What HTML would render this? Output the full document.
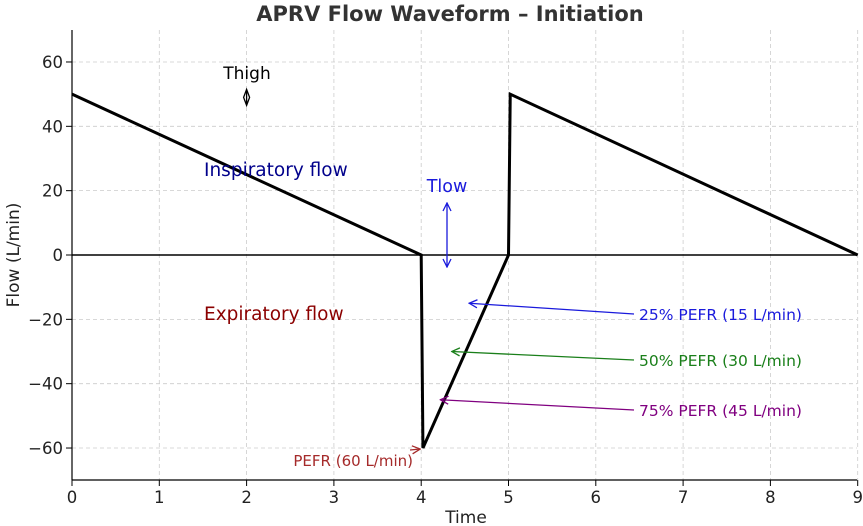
<!DOCTYPE html>
<html><head><meta charset="utf-8"><style>
body{margin:0;background:#fff;}
svg{display:block;font-family:"DejaVu Sans","Liberation Sans",sans-serif;}
</style></head><body>
<svg id="chart" width="863" height="526" viewBox="0 0 863 526">
<defs>
<marker id="ah" markerWidth="10" markerHeight="10" refX="9" refY="5" orient="auto-start-reverse" markerUnits="userSpaceOnUse"><path d="M1,1 L9,5 L1,9" fill="none" stroke="context-stroke" stroke-width="1.3"/></marker>
</defs>
<text x="450" y="21" text-anchor="middle" font-size="21" font-weight="bold" fill="#333">APRV Flow Waveform – Initiation</text>
<g id="grid"></g>
<g id="axes"></g>
<g id="series"></g>
<g id="annot"></g>
<text x="466" y="523" text-anchor="middle" font-size="17" fill="#222">Time</text>
<text transform="translate(19,255) rotate(-90)" text-anchor="middle" font-size="17" fill="#222">Flow (L/min)</text>
</svg>
<script>
const xTicks=[0,1,2,3,4,5,6,7,8,9];
const yTicks=[60,40,20,0,-20,-40,-60];
const yTickLabels=["60","40","20","0","−20","−40","−60"];
const waveT=[0,4,4.02,5,5.02,9];
const waveFlow=[50,0,-60,0,50,0];
const arrowLabels=["25% PEFR (15 L/min)","50% PEFR (30 L/min)","75% PEFR (45 L/min)"];
const arrowTargets=[[4.55,-15],[4.35,-30],[4.22,-45]];
const arrowColors=["#1a1adc","#1a7f1a","#800080"];
const NS="http://www.w3.org/2000/svg";
const X=t=>72+t*87.3;
const Y=v=>255-v*3.217;
function mk(tag,attrs,parent,text){const e=document.createElementNS(NS,tag);for(const k in attrs)e.setAttribute(k,attrs[k]);if(text!==undefined)e.textContent=text;parent.appendChild(e);return e;}
const grid=document.getElementById('grid'),axes=document.getElementById('axes'),ser=document.getElementById('series'),an=document.getElementById('annot');
xTicks.forEach(t=>{
 const g=mk('line',{x1:X(t),x2:X(t),y1:30,y2:480,stroke:'#ccc','stroke-dasharray':'4,3','stroke-width':0.8},grid);
 
 
 mk('line',{x1:X(t),x2:X(t),y1:480,y2:486,stroke:'#000'},axes);
 const l=mk('text',{x:X(t),y:503,'text-anchor':'middle','font-size':16.5,fill:'#222'},axes,String(t));
 
 
});
yTicks.forEach((v,i)=>{
 const g=mk('line',{x1:72,x2:857,y1:Y(v),y2:Y(v),stroke:'#ccc','stroke-dasharray':'4,3','stroke-width':0.8},grid);
 
 
 mk('line',{x1:66,x2:72,y1:Y(v),y2:Y(v),stroke:'#000'},axes);
 const l=mk('text',{x:63,y:Y(v)+6,'text-anchor':'end','font-size':16.5,fill:'#222'},axes,yTickLabels[i]);
 
 
});
mk('line',{x1:72,x2:72,y1:30,y2:480,stroke:'#000','stroke-width':1.2},axes);
mk('line',{x1:72,x2:857,y1:480,y2:480,stroke:'#000','stroke-width':1.2},axes);
const zl=mk('line',{x1:72,x2:857,y1:Y(0),y2:Y(0),stroke:'#000','stroke-width':1.5},ser);


const pts=waveT.map((t,i)=>X(t)+','+Y(waveFlow[i])).join(' ');
const wl=mk('polyline',{points:pts,fill:'none',stroke:'#000','stroke-width':3,'stroke-linejoin':'miter'},ser);


function txt(x,y,s,c,size,name,anchor){const e=mk('text',{x:x,y:y,'font-size':size,fill:c,'text-anchor':anchor||'start'},an,s);return e;}
txt(247,79,'Thigh','#000',17,'thigh-label','middle');
const d=mk('path',{d:`M${X(2)},${Y(51.5)} L${X(2)+3},${Y(49)} L${X(2)},${Y(46.5)} L${X(2)-3},${Y(49)} Z M${X(2)},${Y(51.5)} L${X(2)},${Y(46.5)}`,fill:'none',stroke:'#000','stroke-width':1.3},an);


txt(204,176,'Inspiratory flow','#00008b',18.5,'inspiratory-flow-label');
txt(204,320,'Expiratory flow','#8b0000',18.5,'expiratory-flow-label');
txt(447,192,'Tlow','#1a1adc',17.5,'tlow-label','middle');
const ta=mk('line',{x1:447,y1:203,x2:447,y2:267,stroke:'#1a1adc','stroke-width':1.3,'marker-start':'url(#ah)','marker-end':'url(#ah)'},an);


const labelY=[320,366,416];
arrowLabels.forEach((s,i)=>{
 const a=mk('line',{x1:634,y1:labelY[i]-6,x2:X(arrowTargets[i][0]),y2:Y(arrowTargets[i][1]),stroke:arrowColors[i],'stroke-width':1.3,'marker-end':'url(#ah)'},an);
 
 
 txt(639,labelY[i],s,arrowColors[i],15.5,'pefr-label');
});
txt(413,466,'PEFR (60 L/min)','#a52a2a',15,'pefr-peak-label','end');
const pa=mk('line',{x1:410,y1:450,x2:X(4)-1,y2:Y(-60)+1,stroke:'#a52a2a','stroke-width':1.2,'marker-end':'url(#ah)'},an);


</script>
</body></html>
